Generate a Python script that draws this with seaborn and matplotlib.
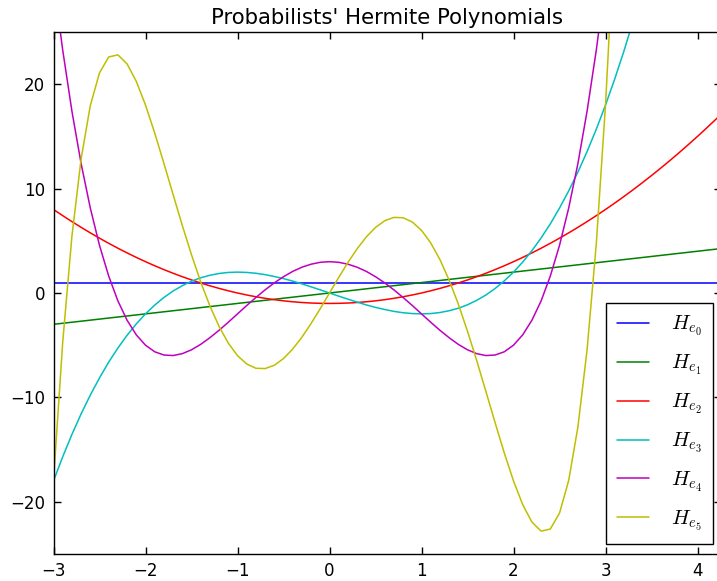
import numpy as np
import pandas as pd
import seaborn as sns
import matplotlib
matplotlib.use("Agg")
import matplotlib.pyplot as plt

# sample positions along x
x_vals = [-3.0, -2.9, -2.8, -2.7, -2.6, -2.5, -2.4, -2.3, -2.2, -2.1,
          -2.0, -1.9, -1.8, -1.7, -1.6, -1.5, -1.4, -1.3, -1.2, -1.1,
          -1.0, -0.9, -0.8, -0.7, -0.6, -0.5, -0.4, -0.3, -0.2, -0.1,
          0.0, 0.1, 0.2, 0.3, 0.4, 0.5, 0.6, 0.7, 0.8, 0.9,
          1.0, 1.1, 1.2, 1.3, 1.4, 1.5, 1.6, 1.7, 1.8, 1.9,
          2.0, 2.1, 2.2, 2.3, 2.4, 2.5, 2.6, 2.7, 2.8, 2.9,
          3.0, 3.1, 3.2, 3.3, 3.4, 3.5, 3.6, 3.7, 3.8, 3.9,
          4.0, 4.1, 4.2, 4.3]

he0 = [1.0, 1.0, 1.0, 1.0, 1.0, 1.0, 1.0, 1.0, 1.0, 1.0,
       1.0, 1.0, 1.0, 1.0, 1.0, 1.0, 1.0, 1.0, 1.0, 1.0,
       1.0, 1.0, 1.0, 1.0, 1.0, 1.0, 1.0, 1.0, 1.0, 1.0,
       1.0, 1.0, 1.0, 1.0, 1.0, 1.0, 1.0, 1.0, 1.0, 1.0,
       1.0, 1.0, 1.0, 1.0, 1.0, 1.0, 1.0, 1.0, 1.0, 1.0,
       1.0, 1.0, 1.0, 1.0, 1.0, 1.0, 1.0, 1.0, 1.0, 1.0,
       1.0, 1.0, 1.0, 1.0, 1.0, 1.0, 1.0, 1.0, 1.0, 1.0,
       1.0, 1.0, 1.0, 1.0]

he1 = [-3.0, -2.9, -2.8, -2.7, -2.6, -2.5, -2.4, -2.3, -2.2, -2.1,
       -2.0, -1.9, -1.8, -1.7, -1.6, -1.5, -1.4, -1.3, -1.2, -1.1,
       -1.0, -0.9, -0.8, -0.7, -0.6, -0.5, -0.4, -0.3, -0.2, -0.1,
       0.0, 0.1, 0.2, 0.3, 0.4, 0.5, 0.6, 0.7, 0.8, 0.9,
       1.0, 1.1, 1.2, 1.3, 1.4, 1.5, 1.6, 1.7, 1.8, 1.9,
       2.0, 2.1, 2.2, 2.3, 2.4, 2.5, 2.6, 2.7, 2.8, 2.9,
       3.0, 3.1, 3.2, 3.3, 3.4, 3.5, 3.6, 3.7, 3.8, 3.9,
       4.0, 4.1, 4.2, 4.3]

he2 = [8.0, 7.41, 6.84, 6.29, 5.76, 5.25, 4.76, 4.29, 3.84, 3.41,
       3.0, 2.61, 2.24, 1.89, 1.56, 1.25, 0.96, 0.69, 0.44, 0.21,
       0.0, -0.19, -0.36, -0.51, -0.64, -0.75, -0.84, -0.91, -0.96, -0.99,
       -1.0, -0.99, -0.96, -0.91, -0.84, -0.75, -0.64, -0.51, -0.36, -0.19,
       0.0, 0.21, 0.44, 0.69, 0.96, 1.25, 1.56, 1.89, 2.24, 2.61,
       3.0, 3.41, 3.84, 4.29, 4.76, 5.25, 5.76, 6.29, 6.84, 7.41,
       8.0, 8.61, 9.24, 9.89, 10.56, 11.25, 11.96, 12.69, 13.44, 14.21,
       15.0, 15.81, 16.64, 17.49]

he3 = [-18.0, -15.69, -13.55, -11.58, -9.78, -8.13, -6.62, -5.27, -4.05, -2.96,
       -2.0, -1.16, -0.43, 0.19, 0.70, 1.13, 1.46, 1.70, 1.87, 1.97,
       2.0, 1.97, 1.89, 1.76, 1.58, 1.38, 1.14, 0.87, 0.59, 0.30,
       0.0, -0.30, -0.59, -0.87, -1.14, -1.38, -1.58, -1.76, -1.89, -1.97,
       -2.0, -1.97, -1.87, -1.70, -1.46, -1.13, -0.70, -0.19, 0.43, 1.16,
       2.0, 2.96, 4.05, 5.27, 6.62, 8.13, 9.78, 11.58, 13.55, 15.69,
       18.0, 20.49, 23.17, 26.04, 29.10, 32.38, 35.86, 39.55, 43.47, 47.62,
       52.0, 56.62, 61.49, 66.61]

he4 = [30.0, 23.27, 17.43, 12.40, 8.14, 4.56, 1.62, -0.76, -2.61, -4.01,
       -5.0, -5.63, -5.94, -5.99, -5.81, -5.44, -4.92, -4.28, -3.57, -2.80,
       -2.0, -1.20, -0.43, 0.30, 0.97, 1.56, 2.07, 2.47, 2.76, 2.94,
       3.0, 2.94, 2.76, 2.47, 2.07, 1.56, 0.97, 0.30, -0.43, -1.20,
       -2.0, -2.80, -3.57, -4.28, -4.92, -5.44, -5.81, -5.99, -5.94, -5.63,
       -5.0, -4.01, -2.61, -0.76, 1.62, 4.56, 8.14, 12.40, 17.43, 23.27,
       30.0, 37.69, 46.42, 56.25, 67.27, 79.56, 93.20, 108.28, 124.87, 143.08,
       163.0, 184.72, 208.33, 233.94]

he5 = [-18.0, -4.72, 5.42, 12.84, 17.95, 21.09, 22.61, 22.81, 21.94, 20.27,
       18.0, 15.33, 12.42, 9.43, 6.47, 3.66, 1.06, -1.24, -3.21, -4.80,
       -6.0, -6.80, -7.21, -7.24, -6.92, -6.28, -5.37, -4.23, -2.92, -1.49,
       0.0, 1.49, 2.92, 4.23, 5.37, 6.28, 6.92, 7.24, 7.21, 6.80,
       6.0, 4.80, 3.21, 1.24, -1.06, -3.66, -6.47, -9.43, -12.42, -15.33,
       -18.0, -20.27, -21.94, -22.81, -22.61, -21.09, -17.95, -12.84, -5.42, 4.72,
       18.0, 34.88, 55.86, 81.48, 112.31, 148.97, 192.10, 242.41, 300.63, 367.55,
       444.0, 530.85, 629.03, 739.51]

labels = [r"$H_{e_0}$", r"$H_{e_1}$", r"$H_{e_2}$",
          r"$H_{e_3}$", r"$H_{e_4}$", r"$H_{e_5}$"]
colors = ["#0000ff", "#008000", "#ff0000", "#00bfbf", "#bf00bf", "#bfbf00"]

frames = []
for lab, vals in zip(labels, [he0, he1, he2, he3, he4, he5]):
    frames.append(pd.DataFrame({"x": x_vals, "y": vals, "poly": lab}))
df = pd.concat(frames, ignore_index=True)

sns.set_style("white")
plt.rcParams["font.family"] = ["DejaVu Sans"]
plt.rcParams["mathtext.fontset"] = "cm"
plt.rcParams["text.color"] = "black"
plt.rcParams["xtick.color"] = "black"
plt.rcParams["ytick.color"] = "black"

fig = plt.figure(figsize=(7.17, 5.81), dpi=100)
ax = fig.add_axes([53.5 / 717, 27 / 581, 667 / 717, 522 / 581])

sns.lineplot(data=df, x="x", y="y", hue="poly", palette=colors,
             estimator=None, sort=False, linewidth=1.1, ax=ax)

ax.set_xlim(-3, 4.25)
ax.set_ylim(-25, 25)
ax.set_xticks([-3, -2, -1, 0, 1, 2, 3, 4])
ax.set_yticks([-20, -10, 0, 10, 20])
ax.set_xlabel("")
ax.set_ylabel("")
ax.tick_params(axis="both", which="major", direction="in",
               bottom=True, top=True, left=True, right=True,
               labelsize=12, length=5, width=1, color="black",
               labelcolor="black", pad=6)
for s in ax.spines.values():
    s.set_color("black")
    s.set_linewidth(1.0)

ax.set_title("Probabilists' Hermite Polynomials", fontsize=15.3,
             color="black", pad=6)

handles, labs = ax.get_legend_handles_labels()
leg = ax.legend(handles, labs, loc="lower right",
                bbox_to_anchor=(713 / 717, 37 / 581),
                bbox_transform=fig.transFigure, borderaxespad=0,
                fontsize=15, handlelength=1.5, labelspacing=0.71,
                fancybox=False, frameon=True, borderpad=0.55,
                handletextpad=1.05)
leg.get_frame().set_edgecolor("black")
leg.get_frame().set_linewidth(1.0)
leg.get_frame().set_alpha(1)

fig.savefig("out.png", dpi=100)
